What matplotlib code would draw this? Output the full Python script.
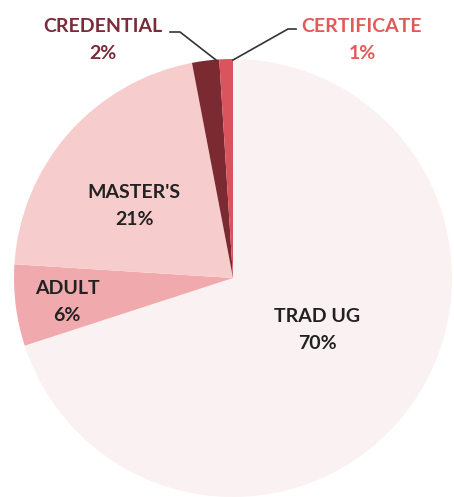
import matplotlib
matplotlib.use('Agg')
import matplotlib.pyplot as plt

# enrollment share by program type
categories = ['TRAD UG', 'ADULT', "MASTER'S", 'CREDENTIAL', 'CERTIFICATE']
shares = [70, 6, 21, 2, 1]
colors = ['#faf1f3', '#f0a9ad', '#f6cdcc', '#7a2a30', '#d9545c']
label_colors = ['#222222', '#222222', '#222222', '#7b2a3a', '#e05a5a']

plt.rcParams['font.family'] = ['Lato', 'DejaVu Sans']

fig = plt.figure(figsize=(4.54, 4.97), dpi=100)
W, H = 454, 497
cx, cy, r = 233, 278, 219
ax = fig.add_axes([(cx - r) / W, (H - cy - r) / H, 2 * r / W, 2 * r / H])
ax.pie(shares, colors=colors, startangle=90, counterclock=False,
       wedgeprops=dict(linewidth=0), radius=1)
ax.set_xlim(-1, 1)
ax.set_ylim(-1, 1)
ax.set_aspect('equal')
ax.axis('off')


def px(x, y):
    # image pixel -> data coords
    return (x - cx) / r, (cy - y) / r


label_pos = [(317, 330), (67, 302), (134, 206), (103, 40), (362, 40)]
for name, val, col, (lx, ly) in zip(categories, shares, label_colors, label_pos):
    x, y = px(lx, ly)
    ax.text(x, y, f'{name}\n{val}%', ha='center', va='center', fontsize=14,
            fontweight='bold', color=col, linespacing=1.65, clip_on=False)

# leader lines for the two small slices
for pts in ([(170, 32), (180, 32), (216, 60)], [(296, 29), (288, 29), (233, 60)]):
    xs, ys = zip(*[px(a, b) for a, b in pts])
    ax.plot(xs, ys, color='#333333', lw=1.2, clip_on=False)

fig.savefig('out.png', dpi=100)
